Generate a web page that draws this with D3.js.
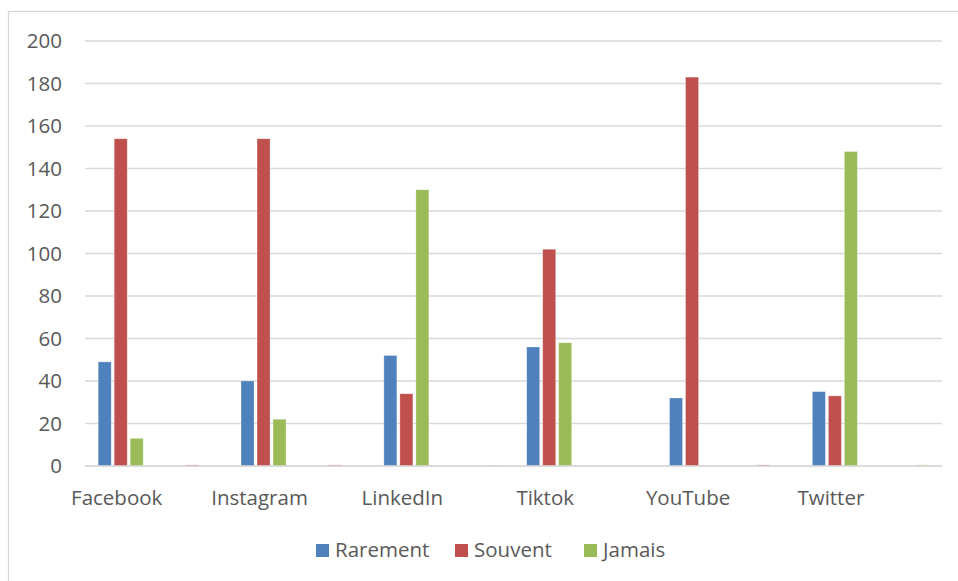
<!DOCTYPE html>
<html>
<head>
<meta charset="utf-8">
<script src="https://cdn.jsdelivr.net/npm/d3@7"></script>
<style>
  html, body { margin: 0; padding: 0; background: #ffffff; }
  svg { display: block; }
  text { font-family: "Open Sans", "Liberation Sans", sans-serif; fill: #595959; }
</style>
</head>
<body>
<svg id="chart" width="958" height="581"></svg>
<script>
// Categories: every platform is followed by an unlabeled spacer category
const categories = ["Facebook", "", "Instagram", "", "LinkedIn", "", "Tiktok", "", "YouTube", "", "Twitter", ""];
const categoryKeys = categories.map((c, i) => "c" + i);

const seriesNames = ["Rarement", "Souvent", "Jamais"];
const seriesColors = ["#4f81bd", "#c0504d", "#9bbb59"];

const rarement = [49, 0, 40, 0, 52, 0, 56, 0, 32, 0, 35, 0];
const souvent  = [154, 0.5, 154, 0.5, 34, 0, 102, 0, 183, 0.5, 33, 0];
const jamais   = [13, 0, 22, 0, 130, 0.4, 58, 0, 0, 0, 148, 0.5];
const seriesValues = [rarement, souvent, jamais];

const yTicks = [0, 20, 40, 60, 80, 100, 120, 140, 160, 180, 200];

const fontSize = 20.5;
const svg = d3.select("#chart");

// Chart frame
svg.append("rect")
  .attr("x", 8.5).attr("y", 11.5)
  .attr("width", 970).attr("height", 600)
  .attr("fill", "none").attr("stroke", "#d9d9d9").attr("stroke-width", 1.3);

const plot = { left: 85, right: 942, top: 41, bottom: 466 };

const x = d3.scaleBand().domain(categoryKeys).range([plot.left, plot.right]).paddingInner(0).paddingOuter(0);
const y = d3.scaleLinear().domain([0, 200]).range([plot.bottom, plot.top]);

const barWidth = 13;
const barStep = 16;

// Gridlines
svg.append("g")
  .selectAll("line")
  .data(yTicks)
  .join("line")
  .attr("x1", plot.left).attr("x2", plot.right)
  .attr("y1", d => y(d)).attr("y2", d => y(d))
  .attr("stroke", "#d9d9d9").attr("stroke-width", 1.3);

// Y axis labels
const yAxis = d3.axisLeft(y).tickValues(yTicks).tickSize(0).tickPadding(0);
const yG = svg.append("g").attr("transform", `translate(${plot.left - 23},0)`).call(yAxis);
yG.select(".domain").remove();
yG.selectAll("text")
  .attr("font-size", fontSize)
  .attr("fill", "#595959")
  .style("font-family", "'Open Sans', sans-serif");

// Bars
const groups = svg.append("g")
  .selectAll("g")
  .data(categoryKeys)
  .join("g")
  .attr("transform", d => `translate(${x(d) + x.bandwidth() / 2},0)`);

groups.selectAll("rect")
  .data((d, i) => seriesValues.map((vals, s) => ({ s, v: vals[i] })))
  .join("rect")
  .filter(d => d.v > 0)
  .attr("x", d => (d.s - 1) * barStep - barWidth / 2)
  .attr("y", d => y(d.v))
  .attr("width", barWidth)
  .attr("height", d => y(0) - y(d.v))
  .attr("fill", d => seriesColors[d.s])
  .attr("stroke", "#ffffff")
  .attr("stroke-opacity", 0.35)
  .attr("stroke-width", 0.8);

// Baseline
svg.append("line")
  .attr("x1", plot.left).attr("x2", plot.right)
  .attr("y1", y(0)).attr("y2", y(0))
  .attr("stroke", "#d9d9d9").attr("stroke-width", 1.5);

// Category labels
const xAxis = d3.axisBottom(x).tickFormat((d, i) => categories[i]).tickSize(0).tickPadding(0);
const xG = svg.append("g").attr("transform", `translate(-4,${plot.bottom})`).call(xAxis);
xG.select(".domain").remove();
xG.selectAll("text")
  .attr("y", 39)
  .attr("dy", "0")
  .attr("font-size", fontSize)
  .attr("fill", "#595959")
  .style("font-family", "'Open Sans', sans-serif");

// Legend
const legendItems = [
  { name: seriesNames[0], color: seriesColors[0], x: 316 },
  { name: seriesNames[1], color: seriesColors[1], x: 455 },
  { name: seriesNames[2], color: seriesColors[2], x: 584 }
];
const legend = svg.append("g");
legendItems.forEach(item => {
  legend.append("rect")
    .attr("x", item.x).attr("y", 544)
    .attr("width", 13).attr("height", 13)
    .attr("fill", item.color);
  legend.append("text")
    .attr("x", item.x + 19).attr("y", 557)
    .attr("font-size", fontSize)
    .text(item.name);
});
</script>
</body>
</html>
